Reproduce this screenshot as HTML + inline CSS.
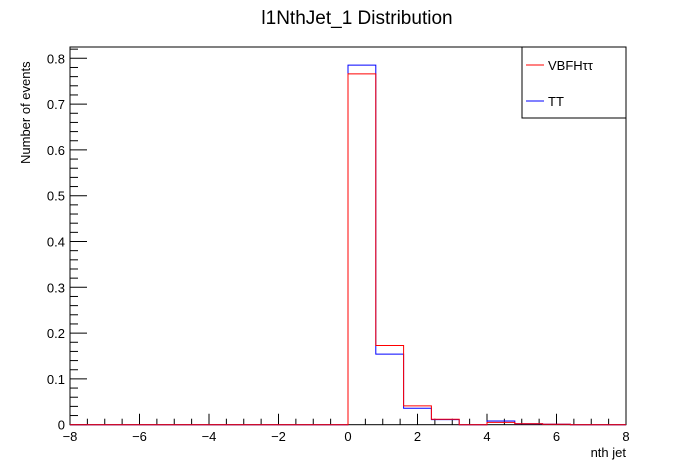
<!DOCTYPE html>
<html><head><meta charset="utf-8"><style>
html,body{margin:0;padding:0;background:#fff;}
svg{display:block;font-family:"Liberation Sans",Arial,sans-serif;}
</style></head><body>
<svg id="chart" width="696" height="472" viewBox="0 0 696 472">
<text x="357" y="24" font-size="19" text-anchor="middle">l1NthJet_1 Distribution</text>
<rect x="70" y="47" width="556" height="377.7" fill="none" stroke="#000" stroke-width="1"/>
<g id="axes"></g>
<g id="series"></g>
<text x="626" y="457" font-size="13" text-anchor="end">nth jet</text>
<text transform="translate(30,164) rotate(-90)" font-size="13" text-anchor="start">Number of events</text>
<g>
<rect x="522" y="47" width="104" height="71" fill="#fff" stroke="#000"/>
<line x1="526" y1="65" x2="544" y2="65" stroke="#f00"/>
<text x="548" y="70" font-size="13">VBFHττ</text>
<line x1="526" y1="101" x2="544" y2="101" stroke="#00f"/>
<text x="548" y="106" font-size="13">TT</text>
</g>
</svg>
<script>
const binEdgesStart = -8;
const binWidth = 0.8;
const ttValues = [0,0,0,0,0,0,0,0,0,0,0.785,0.154,0.036,0.011,0,0.008,0.002,0.001,0,0];
const vbfValues = [0,0,0,0,0,0,0,0,0,0,0.766,0.173,0.041,0.012,0,0.005,0.002,0.001,0,0];
const xTicks = [-8,-6,-4,-2,0,2,4,6,8];
const yTicks = [0,0.1,0.2,0.3,0.4,0.5,0.6,0.7,0.8];

const X0=70,X1=626,Y0=424.7,Y1=47, XMIN=-8,XMAX=8,YMAX=0.8247;
const NS='http://www.w3.org/2000/svg';
function xs(v){return X0+(v-XMIN)/(XMAX-XMIN)*(X1-X0);}
function ys(v){return Y0-v/YMAX*(Y0-Y1);}
const axes=document.getElementById('axes');
function mk(tag,attrs,parent){const e=document.createElementNS(NS,tag);for(const k in attrs)e.setAttribute(k,attrs[k]);parent.appendChild(e);return e;}
// x minor ticks
for(let v=XMIN;v<=XMAX+1e-9;v+=0.5){
  const major=Math.abs(v/2-Math.round(v/2))<1e-6;
  const t=mk('line',{x1:xs(v),x2:xs(v),y1:Y0,y2:Y0-(major?11:6),stroke:'#000'},axes);
  
  
}
xTicks.forEach(v=>{
  const t=mk('text',{x:xs(v),y:441,'font-size':13,'text-anchor':'middle'},axes);
  t.textContent=v<0?'\u2212'+(-v):String(v);
  
  
});
for(let i=0;i*0.02<=YMAX;i++){
  const v=i*0.02, major=i%5===0;
  const t=mk('line',{x1:X0,x2:X0+(major?17:8),y1:ys(v),y2:ys(v),stroke:'#000'},axes);
  
  
}
yTicks.forEach(v=>{
  const t=mk('text',{x:65,y:ys(v)+5,'font-size':13,'text-anchor':'end'},axes);
  t.textContent=v===0?'0':v.toFixed(1);
  
  
});
const series=document.getElementById('series');
function stepPath(vals){
  let d='M'+xs(binEdgesStart)+','+ys(0);
  vals.forEach((v,i)=>{const a=binEdgesStart+i*binWidth;d+=' L'+xs(a)+','+ys(v)+' L'+xs(a+binWidth)+','+ys(v);});
  d+=' L'+xs(binEdgesStart+vals.length*binWidth)+','+ys(0);
  return d;
}
const p1=mk('path',{d:stepPath(ttValues),fill:'none',stroke:'#00f','stroke-width':1},series);


const p2=mk('path',{d:stepPath(vbfValues),fill:'none',stroke:'#f00','stroke-width':1},series);


</script>
</body></html>
